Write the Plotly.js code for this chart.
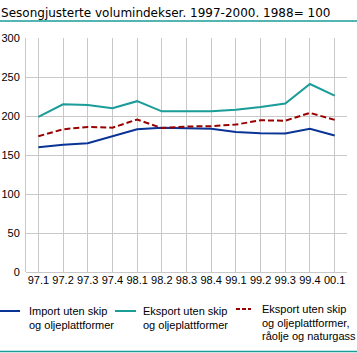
<!DOCTYPE html>
<html><head><meta charset="utf-8">
<script src="https://cdn.plot.ly/plotly-3.0.1.min.js"></script>
<style>html,body{margin:0;padding:0;background:#fff}#chart{width:357px;height:353px}</style>
</head><body><div id="chart"></div>
<script>
const categories = ["97.1","97.2","97.3","97.4","98.1","98.2","98.3","98.4","99.1","99.2","99.3","99.4","00.1"];
const importUten = [160,163,165,174,183,185,184,183.5,179.5,178,177.5,183.5,175];
const eksportUten = [199,215,214,210,219,206,206,206,208,211.5,216,241,226];
const eksportUtenRaolje = [174,183,186,185,195.5,184.5,186.5,187,189,194.5,194,204,195];
const seriesNames = [
  ["Import uten skip", "og oljeplattformer"],
  ["Eksport uten skip", "og oljeplattformer"],
  ["Eksport uten skip", "og oljeplattformer,", "råolje og naturgass"]
];
const seriesColors = ['#0a3396', '#1a9c98', '#990000'];
const seriesDash = ['solid', 'solid', '6px,3px'];
const yTicks = [0,50,100,150,200,250,300];

const PL = 26, PR = 10, PT = 38, PB = 81, W = 357, H = 353;
const pw = W - PL - PR, ph = H - PT - PB;
const px = p => (p - PL) / pw;
const py = p => (H - PB - p) / ph;

const seriesValues = [importUten, eksportUten, eksportUtenRaolje];
const traces = seriesValues.map((vals, i) => ({
  x: categories, y: vals, name: seriesNames[i].join(' '), type: 'scatter', mode: 'lines',
  line: {color: seriesColors[i], width: 2, dash: seriesDash[i]}
}));

// manual legend layout (pixel positions in the page)
const legendItems = [
  {x0: 0, x1: 20, yLine: 311, xText: 29, yText: 311},
  {x0: 115, x1: 136, yLine: 311, xText: 143, yText: 311},
  {x0: 236, x1: 251, yLine: 309, xText: 262, yText: 309}
];
const lineStep = 13.5;
const shapes = [
  {type: 'line', xref: 'paper', yref: 'paper', x0: px(0), x1: px(357), y0: py(21), y1: py(21), line: {color: '#1a9c98', width: 1.5}},
  {type: 'line', xref: 'paper', yref: 'paper', x0: px(0), x1: px(357), y0: py(351.5), y1: py(351.5), line: {color: '#1a9c98', width: 1.5}}
];
const annotations = [];
legendItems.forEach((it, i) => {
  shapes.push({type: 'line', xref: 'paper', yref: 'paper', x0: px(it.x0), x1: px(it.x1), y0: py(it.yLine), y1: py(it.yLine),
    line: {color: seriesColors[i], width: 2, dash: i === 2 ? '4px,2px' : 'solid'}});
  seriesNames[i].forEach((t, j) => {
    annotations.push({text: t, xref: 'paper', yref: 'paper', x: px(it.xText - 2), y: py(it.yText + j * lineStep),
      xanchor: 'left', yanchor: 'middle', showarrow: false, align: 'left',
      font: {family: 'Liberation Sans, Arial, sans-serif', size: 11, color: '#000'}});
  });
});

const layout = {
  width: W, height: H,
  margin: {l: PL, r: PR, t: PT, b: PB},
  paper_bgcolor: '#fff', plot_bgcolor: '#fff',
  font: {family: 'Liberation Sans, Arial, sans-serif', size: 11, color: '#000'},
  title: {text: 'Sesongjusterte volumindekser. 1997-2000. 1988= 100', x: 0.003, xref: 'container', xanchor: 'left', y: 0.975, yref: 'container', yanchor: 'top', font: {family: 'DejaVu Sans, sans-serif', size: 12, color: '#000'}},
  xaxis: {type: 'category', range: [-0.5, 12.5], tickvals: categories, ticktext: categories, tickangle: 0, showgrid: true, gridcolor: '#c8c8c8', gridwidth: 1, showline: false, zeroline: false, ticks: '', tickfont: {size: 11}, fixedrange: true},
  yaxis: {range: [0, 300], tickvals: yTicks, ticktext: yTicks.map(String), showgrid: true, gridcolor: '#c8c8c8', gridwidth: 1, showline: true, linecolor: '#c8c8c8', linewidth: 1, zeroline: true, zerolinecolor: '#c8c8c8', zerolinewidth: 1, ticks: '', tickfont: {size: 11}, ticklabelstandoff: 3, fixedrange: true},
  showlegend: false,
  shapes: shapes,
  annotations: annotations
};
Plotly.newPlot('chart', traces, layout, {displayModeBar: false, staticPlot: true});
</script></body></html>
